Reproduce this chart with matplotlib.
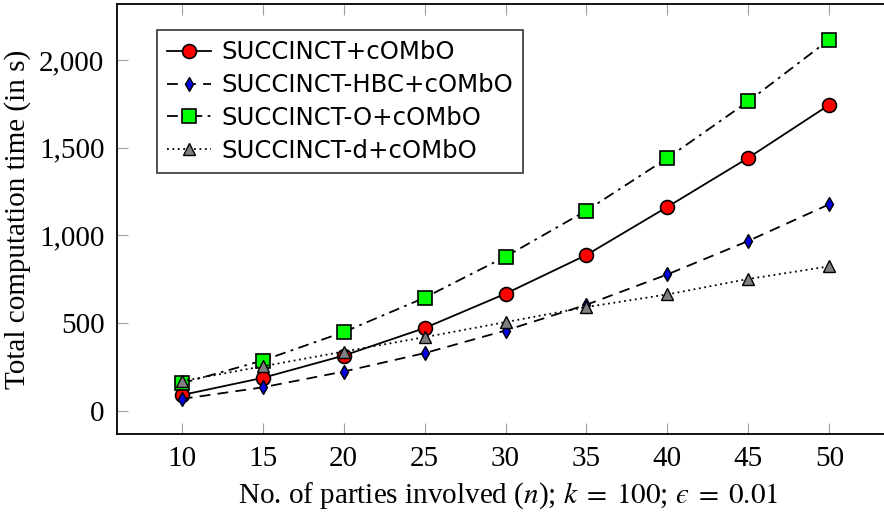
import matplotlib
matplotlib.use("Agg")
import matplotlib.pyplot as plt
from matplotlib.ticker import FuncFormatter

n_parties = [10, 15, 20, 25, 30, 35, 40, 45, 50]
succinct = [89, 187, 314, 471, 667, 888, 1162, 1442, 1744]
succinct_hbc = [67, 133, 223, 328, 457, 604, 777, 968, 1177]
succinct_o = [156, 286, 448, 644, 878, 1141, 1440, 1764, 2116]
succinct_d = [168, 253, 337, 419, 505, 591, 663, 751, 823]

labels = ["SUCCINCT+cOMbO", "SUCCINCT-HBC+cOMbO", "SUCCINCT-O+cOMbO", "SUCCINCT-d+cOMbO"]

plt.rcParams['font.family'] = ['Liberation Serif', 'DejaVu Serif']
plt.rcParams['mathtext.fontset'] = 'stix'

W, H = 884, 519
fig = plt.figure(figsize=(W / 100, H / 100), dpi=100)
left, right, top, bottom = 117, 900, 4, 434
ax = fig.add_axes([left / W, 1 - bottom / H, (right - left) / W, (bottom - top) / H])

ax.plot(n_parties, succinct, '-', color='black', lw=1.3, marker='o', ms=10,
        mfc='#ff0000', mec='black', mew=1.2, label=labels[0])
ax.plot(n_parties, succinct_hbc, color='black', lw=1.3, ls=(0, (6, 4)), marker='d', ms=7.5,
        mfc='#0000e0', mec='black', mew=1.0, label=labels[1])
ax.plot(n_parties, succinct_o, color='black', lw=1.3, ls=(0, (6, 3, 1.5, 3)), marker='s', ms=10,
        mfc='#00ff00', mec='black', mew=1.2, label=labels[2])
ax.plot(n_parties, succinct_d, color='black', lw=1.3, ls=(0, (1, 2)), marker='^', ms=8,
        mfc='#808080', mec='black', mew=1.0, label=labels[3])

ax.set_xlim(6, 54.37)
ax.set_ylim(-133, 2319)
ax.set_xticks(n_parties)
ax.set_yticks([0, 500, 1000, 1500, 2000])
ax.yaxis.set_major_formatter(FuncFormatter(lambda v, p: f"{int(v):,}"))
ax.tick_params(direction='in', length=8, width=0.8, color='#a0a0a0',
               top=True, right=True, labelsize=21, pad=9)
for s in ax.spines.values():
    s.set_linewidth(1.3)

ax.set_xlabel("No. of parties involved ($n$); $k\\;=\\;100$; $\u03f5\\;=\\;0.01$", fontsize=21, labelpad=6)
ax.set_ylabel("Total computation time (in s)", fontsize=21, labelpad=6)

leg = ax.legend(loc='upper left', bbox_to_anchor=(40 / (right - left), 1 - 26 / (bottom - top)),
                frameon=True, fancybox=False, edgecolor='black', borderaxespad=0,
                prop={'family': 'DejaVu Sans', 'size': 17.6}, handlelength=1.8,
                handletextpad=0.4, labelspacing=0.36, borderpad=0.42)
leg.get_frame().set_linewidth(1.2)

fig.savefig("out.png", dpi=100)
